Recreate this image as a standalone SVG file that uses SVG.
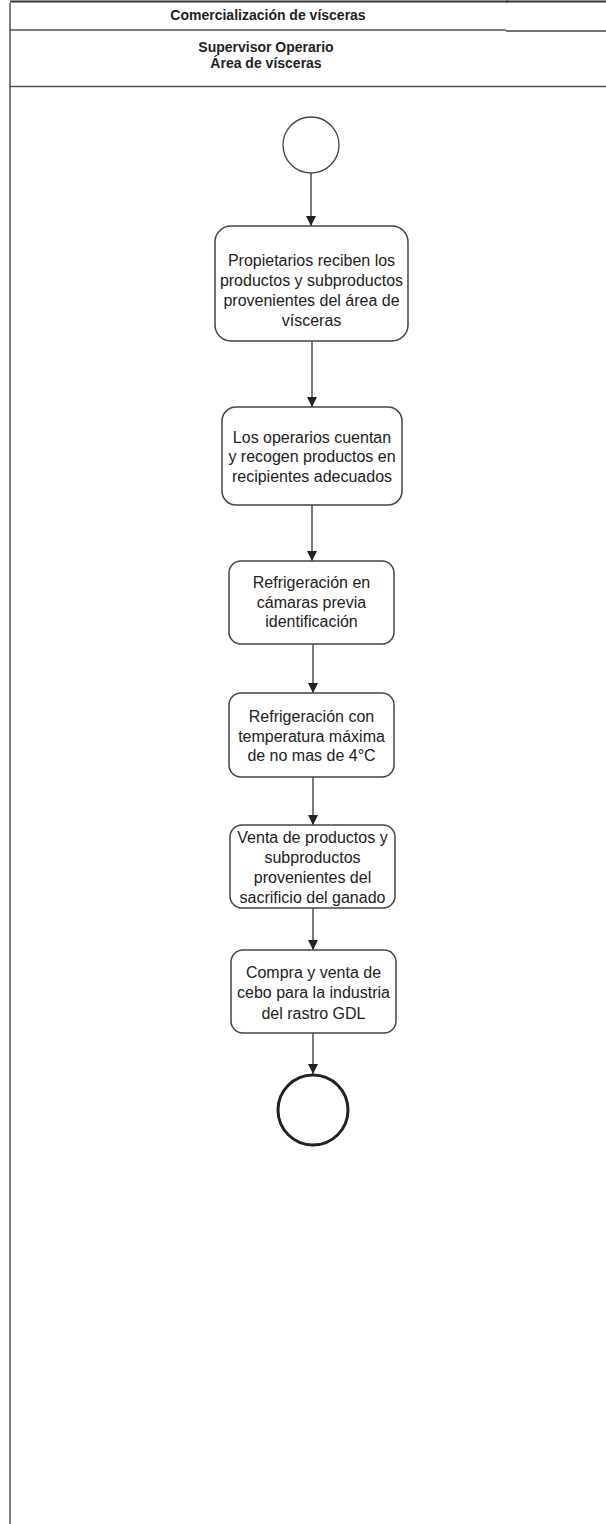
<svg xmlns="http://www.w3.org/2000/svg" width="606" height="1524" viewBox="0 0 606 1524">
<style>
.lane{stroke:#555;stroke-width:1.5;fill:none}
.hdr{font-family:"Liberation Sans",Arial,sans-serif;font-size:14px;font-weight:bold;fill:#222;text-anchor:middle}
.box{fill:#fff;stroke:#444;stroke-width:1.5}
.t{font-family:"Liberation Sans",Arial,sans-serif;font-size:16px;fill:#222;text-anchor:middle}
.con{stroke:#333;stroke-width:1.3;fill:none;marker-end:url(#ah)}
</style>
<defs>
<marker id="ah" viewBox="0 0 10 10" refX="10" refY="5" markerWidth="10" markerHeight="11" markerUnits="userSpaceOnUse" orient="auto">
<path d="M0,0 L10,5 L0,10 Z" fill="#222"/>
</marker>
</defs>
<rect width="606" height="1524" fill="#fff"/>
<g id="pool">
<line x1="10" y1="1.5" x2="606" y2="1.5" stroke="#333" stroke-width="2"/>
<line x1="507" y1="0" x2="507" y2="3" stroke="#333" stroke-width="1"/>
<line class="lane" x1="10" y1="3" x2="10" y2="1524"/>
<line class="lane" x1="10" y1="30" x2="506" y2="30"/>
<line x1="506" y1="31" x2="606" y2="31" stroke="#444" stroke-width="1.5"/>
<line class="lane" x1="10" y1="86.5" x2="606" y2="86.5"/>
<text class="hdr" x="268" y="20">Comercialización de vísceras</text>
<text class="hdr" x="266" y="52">Supervisor Operario</text>
<text class="hdr" x="266" y="68">Área de vísceras</text>
</g>
<g id="connectors">
<line class="con" x1="311" y1="173" x2="311" y2="226"/>
<line class="con" x1="312" y1="341" x2="312" y2="407"/>
<line class="con" x1="312" y1="505" x2="312" y2="561"/>
<line class="con" x1="313" y1="644" x2="313" y2="693"/>
<line class="con" x1="313" y1="777" x2="313" y2="825"/>
<line class="con" x1="313" y1="908" x2="313" y2="950"/>
<line class="con" x1="313" y1="1033" x2="313" y2="1074"/>
</g>
<g id="start">
<circle cx="311" cy="145" r="28" fill="#fff" stroke="#444" stroke-width="1.3"/>
</g>
<g id="n1">
<rect class="box" x="215" y="226" width="193" height="115" rx="16"/>
<text class="t" x="311.5" y="266">Propietarios reciben los</text>
<text class="t" x="311.5" y="286">productos y subproductos</text>
<text class="t" x="311.5" y="306">provenientes del área de</text>
<text class="t" x="311.5" y="326">vísceras</text>
</g>
<g id="n2">
<rect class="box" x="222" y="407" width="180" height="98" rx="14"/>
<text class="t" x="312" y="443">Los operarios cuentan</text>
<text class="t" x="312" y="462">y recogen productos en</text>
<text class="t" x="312" y="482">recipientes adecuados</text>
</g>
<g id="n3">
<rect class="box" x="229" y="561" width="165" height="83" rx="12"/>
<text class="t" x="311.5" y="588">Refrigeración en</text>
<text class="t" x="311.5" y="608">cámaras previa</text>
<text class="t" x="311.5" y="627">identificación</text>
</g>
<g id="n4">
<rect class="box" x="229" y="693" width="165" height="84" rx="12"/>
<text class="t" x="311.5" y="722">Refrigeración con</text>
<text class="t" x="311.5" y="742">temperatura máxima</text>
<text class="t" x="311.5" y="761">de no mas de 4°C</text>
</g>
<g id="n5">
<rect class="box" x="230" y="825" width="165" height="83" rx="12"/>
<text class="t" x="312.5" y="843">Venta de productos y</text>
<text class="t" x="312.5" y="863">subproductos</text>
<text class="t" x="312.5" y="883">provenientes del</text>
<text class="t" x="312.5" y="903">sacrificio del ganado</text>
</g>
<g id="n6">
<rect class="box" x="231" y="950" width="165" height="83" rx="12"/>
<text class="t" x="313.5" y="978">Compra y venta de</text>
<text class="t" x="313.5" y="998">cebo para la industria</text>
<text class="t" x="313.5" y="1019">del rastro GDL</text>
</g>
<g id="end">
<circle cx="313" cy="1110" r="35" fill="#fff" stroke="#222" stroke-width="3"/>
</g>
</svg>
